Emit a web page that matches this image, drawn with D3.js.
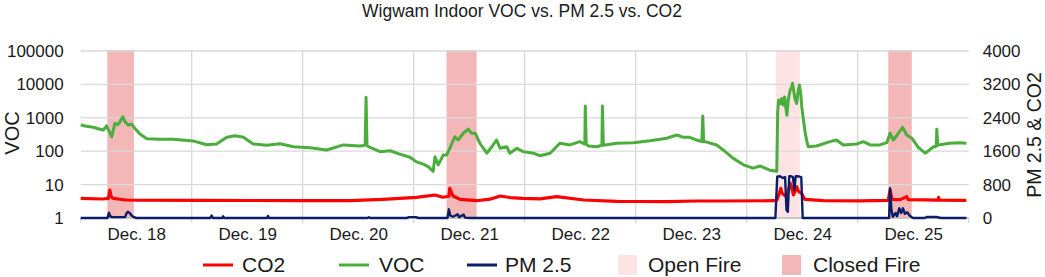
<!DOCTYPE html>
<html>
<head>
<meta charset="utf-8">
<script src="https://cdn.jsdelivr.net/npm/d3@7"></script>
<style>
  html, body { margin: 0; padding: 0; background: #fff; }
  svg { display: block; font-family: "Liberation Sans", Arial, sans-serif; }
</style>
</head>
<body>
<svg id="chart" width="1045" height="277"></svg>
<script>
// ---------- DATA ----------
// Time is in hours since Dec. 18 00:00
const dayLabels = ["Dec. 18", "Dec. 19", "Dec. 20", "Dec. 21", "Dec. 22", "Dec. 23", "Dec. 24", "Dec. 25"];
const vocTicks = [1, 10, 100, 1000, 10000, 100000];
const rightTicks = [0, 800, 1600, 2400, 3200, 4000];

const openFireStart = [150.3];
const openFireEnd   = [155.5];
const closedFireStart = [5.75, 79.1, 174.6];
const closedFireEnd   = [11.5, 85.6, 179.7];

const vocHours = [0, 1.2, 2.7, 3.8, 4.9, 5.6, 6.2, 6.7, 7.4, 8.0, 8.5, 9.1, 9.6, 10.3, 11.0, 11.7, 12.8, 14.3, 17.1, 20.0, 24.3, 27.2, 29.4, 31.6, 33.4, 35.2, 37.3, 40.2, 43.1, 46.0, 49.6, 53.2, 56.8, 60.4, 61.5, 61.7, 61.9, 62.2, 64.7, 66.9, 69.0, 71.2, 72.6, 74.1, 75.2, 76.2, 76.6, 77.3, 78.4, 79.1, 79.8, 80.9, 81.6, 82.7, 83.8, 84.5, 85.3, 86.3, 87.8, 88.9, 89.9, 90.7, 92.1, 92.8, 94.3, 95.7, 97.9, 99.3, 101.5, 103.6, 105.8, 107.9, 109.0, 109.1, 109.3, 109.8, 111.6, 112.7, 112.8, 113.0, 113.4, 115.9, 119.5, 123.1, 126.7, 128.9, 130.3, 131.7, 133.2, 134.3, 134.5, 134.7, 135.0, 137.5, 138.9, 141.1, 143.3, 145.4, 146.9, 149.0, 150.5, 150.7, 150.9, 151.2, 151.6, 151.9, 152.2, 152.5, 152.7, 153.0, 153.4, 153.7, 153.9, 154.2, 154.4, 154.8, 155.1, 155.4, 155.7, 155.9, 156.3, 156.6, 157.0, 157.3, 159.1, 162.0, 163.4, 164.9, 167.8, 169.2, 170.7, 172.8, 174.3, 175.0, 175.7, 176.8, 177.7, 178.6, 179.7, 181.1, 182.6, 184.4, 185.0, 185.1, 185.3, 185.4, 187.9, 190.1, 191.5];
const vocValues = [605, 560, 520, 470, 430, 570, 380, 270, 680, 620, 760, 1075, 760, 605, 650, 485, 325, 237, 227, 227, 203, 156, 164, 260, 290, 260, 164, 150, 167, 136, 127, 109, 154, 143, 150, 4100, 150, 136, 97, 103, 82, 66, 48, 41, 34, 25, 68, 39, 77, 77, 122, 272, 216, 345, 455, 345, 345, 173, 87, 136, 216, 122, 136, 87, 122, 97, 87, 73, 87, 173, 154, 193, 164, 2250, 164, 143, 136, 150, 2250, 150, 154, 173, 180, 205, 245, 305, 260, 260, 216, 193, 1130, 193, 193, 154, 109, 61, 39, 31, 36, 27, 25, 1500, 3400, 2600, 3800, 2400, 4200, 1800, 1200, 3500, 6800, 8000, 10800, 6000, 3800, 2700, 6000, 9600, 5000, 2150, 800, 385, 200, 136, 143, 193, 216, 154, 164, 193, 154, 154, 180, 345, 216, 345, 520, 305, 245, 131, 87, 136, 140, 455, 170, 154, 173, 180, 173];

const co2Hours = [0, 4.8, 6.0, 6.3, 6.55, 7.0, 8.5, 9.9, 12.8, 25.8, 47.4, 58.2, 65.4, 72.6, 76.6, 78.3, 79.6, 79.8, 80.2, 80.5, 82.0, 85.6, 88.5, 90.7, 92.8, 95.6, 99.3, 102.9, 108.8, 115.9, 120.9, 126.7, 133.2, 138.9, 149.8, 150.5, 150.8, 151.4, 151.6, 152.6, 153.0, 153.4, 153.8, 154.1, 154.5, 154.8, 155.2, 155.9, 156.2, 156.6, 160.6, 168.5, 174.6, 175.0, 175.4, 177.2, 178.6, 178.9, 185.4, 185.5, 185.6, 191.5];
const co2Values = [472, 455, 470, 670, 520, 472, 450, 431, 425, 420, 418, 414, 448, 496, 551, 496, 520, 711, 600, 527, 448, 414, 450, 527, 490, 472, 460, 511, 431, 400, 395, 393, 407, 407, 414, 430, 511, 711, 600, 511, 650, 831, 700, 551, 650, 750, 640, 591, 520, 448, 414, 410, 420, 670, 448, 440, 511, 440, 430, 496, 430, 422];

const pmHours = [0, 5.8, 6.1, 6.4, 6.8, 9.6, 9.9, 10.2, 10.6, 11.0, 11.5, 12.0, 28.0, 28.3, 28.6, 30.6, 30.8, 31.0, 40.3, 40.5, 40.7, 62.0, 62.3, 62.6, 70.5, 71.0, 72.5, 73.0, 79.3, 79.6, 79.9, 80.5, 81.5, 81.8, 82.8, 83.1, 84.0, 150.2, 150.6, 151.2, 151.8, 152.3, 152.6, 152.9, 153.2, 153.6, 154.0, 154.3, 154.6, 155.0, 155.4, 155.8, 156.1, 174.8, 175.0, 175.3, 175.6, 176.2, 176.5, 177.0, 177.4, 177.8, 178.2, 178.7, 179.2, 179.7, 180.0, 182.5, 183.0, 185.0, 186.0, 191.5];
const pmValues = [0, 0, 127, 40, 20, 20, 110, 150, 120, 60, 20, 0, 0, 60, 0, 0, 40, 0, 0, 50, 0, 0, 20, 0, 0, 20, 20, 0, 0, 208, 60, 30, 90, 20, 80, 10, 0, 0, 990, 1000, 960, 980, 190, 150, 1000, 1000, 980, 670, 1000, 1000, 990, 980, 0, 0, 711, 190, 30, 120, 40, 232, 120, 232, 100, 140, 60, 20, 0, 0, 25, 25, 0, 0];

const legendLabels = ["CO2", "VOC", "PM 2.5", "Open Fire", "Closed Fire"];

// ---------- STYLE / LAYOUT ----------
const colors = { co2: "#ff0000", voc: "#4bae3c", pm: "#0b1d68", open: "#fde3e3", closed: "#f4b7b7", grid: "#d9d9d9" };
const L = 80.7, R = 968.7, T = 51, B = 218;

const svg = d3.select("#chart");
const x = d3.scaleLinear().domain([0, 192]).range([L, R]);
const yL = d3.scaleLog().domain([1, 100000]).range([B, T]);
const yR = d3.scaleLinear().domain([0, 4000]).range([B, T]);

// shading
const fireG = svg.append("g");
fireG.selectAll("rect.open").data(openFireStart.map((s, i) => [s, openFireEnd[i]]))
  .join("rect").attr("x", d => x(d[0])).attr("width", d => x(d[1]) - x(d[0]))
  .attr("y", T - 1).attr("height", B - T + 1).attr("fill", colors.open);
fireG.selectAll("rect.closed").data(closedFireStart.map((s, i) => [s, closedFireEnd[i]]))
  .join("rect").attr("x", d => x(d[0])).attr("width", d => x(d[1]) - x(d[0]))
  .attr("y", T - 1).attr("height", B - T + 1).attr("fill", colors.closed);

// gridlines
const gridG = svg.append("g").attr("stroke", colors.grid).attr("stroke-width", 1.3);
gridG.selectAll("line.h").data(vocTicks).join("line")
  .attr("x1", L).attr("x2", R).attr("y1", d => yL(d)).attr("y2", d => yL(d));
gridG.selectAll("line.v").data(d3.range(0, 9).map(i => i * 24)).join("line")
  .attr("x1", d => x(d)).attr("x2", d => x(d))
  .attr("y1", (d, i) => (i === 0 || i === 8) ? B : T).attr("y2", B + 5);
svg.append("line").attr("x1", L).attr("x2", R).attr("y1", B).attr("y2", B)
  .attr("stroke", "#bfbfbf").attr("stroke-width", 1.3);

// lines
const lineOf = (hours, vals, ys) => d3.line().x((d, i) => x(hours[i])).y((d, i) => ys(vals[i]))(vals);
svg.append("path").attr("d", lineOf(co2Hours, co2Values, yR))
  .attr("fill", "none").attr("stroke", colors.co2).attr("stroke-width", 3.2).attr("stroke-linejoin", "round");
svg.append("path").attr("d", lineOf(vocHours, vocValues, yL))
  .attr("fill", "none").attr("stroke", colors.voc).attr("stroke-width", 3).attr("stroke-linejoin", "round");
svg.append("path").attr("d", lineOf(pmHours, pmValues, yR))
  .attr("fill", "none").attr("stroke", colors.pm).attr("stroke-width", 2.4).attr("stroke-linejoin", "round");

// axes
const axL = svg.append("g").attr("transform", `translate(${L},0)`)
  .call(d3.axisLeft(yL).tickValues(vocTicks).tickFormat(d3.format("d")).tickSize(0).tickPadding(17));
const axR = svg.append("g").attr("transform", `translate(${R},0)`)
  .call(d3.axisRight(yR).tickValues(rightTicks).tickFormat(d3.format("d")).tickSize(0).tickPadding(14));
const axB = svg.append("g").attr("transform", `translate(0,${B})`)
  .call(d3.axisBottom(x).tickValues(dayLabels.map((d, i) => 12 + 24 * i))
    .tickFormat((d, i) => dayLabels[i]).tickSize(0).tickPadding(10));
[axL, axR, axB].forEach(a => {
  a.select(".domain").remove();
  a.selectAll("text").attr("font-size", 17).attr("fill", "#1a1a1a")
    .attr("font-family", '"Liberation Sans", Arial, sans-serif');
});

// titles
svg.append("text").attr("x", 522).attr("y", 17).attr("text-anchor", "middle")
  .attr("font-size", 17.5).attr("fill", "#1a1a1a").text("Wigwam Indoor VOC vs. PM 2.5 vs. CO2");
svg.append("text").attr("transform", "translate(12,133) rotate(-90)").attr("text-anchor", "middle")
  .attr("dy", "0.35em").attr("font-size", 20).attr("fill", "#1a1a1a").text("VOC");
svg.append("text").attr("transform", "translate(1034,135) rotate(-90)").attr("text-anchor", "middle")
  .attr("dy", "0.35em").attr("font-size", 19.5).attr("fill", "#1a1a1a").text("PM 2.5 & CO2");

// legend
const legY = 265;
const legendItems = [
  { label: legendLabels[0], type: "line", color: colors.co2, x: 203, tx: 242 },
  { label: legendLabels[1], type: "line", color: colors.voc, x: 339, tx: 379 },
  { label: legendLabels[2], type: "line", color: colors.pm, x: 467, tx: 505 },
  { label: legendLabels[3], type: "rect", color: colors.open, x: 618, tx: 648 },
  { label: legendLabels[4], type: "rect", color: colors.closed, x: 782, tx: 813 }
];
const lg = svg.append("g");
legendItems.forEach(it => {
  if (it.type === "line") {
    lg.append("line").attr("x1", it.x).attr("x2", it.x + 30).attr("y1", legY).attr("y2", legY)
      .attr("stroke", it.color).attr("stroke-width", 3);
  } else {
    lg.append("rect").attr("x", it.x).attr("y", legY - 10).attr("width", 19).attr("height", 20)
      .attr("fill", it.color);
  }
  lg.append("text").attr("x", it.tx).attr("y", legY).attr("dy", "0.35em")
    .attr("font-size", 21).attr("fill", "#1a1a1a").text(it.label);
});
</script>
</body>
</html>
